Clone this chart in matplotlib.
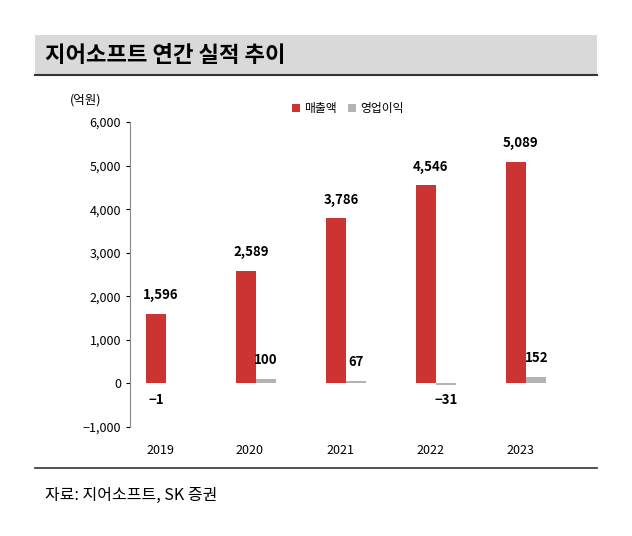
import matplotlib
matplotlib.use("Agg")
import matplotlib.pyplot as plt
from matplotlib.patches import Rectangle

plt.rcParams['font.family'] = ['Noto Sans CJK KR', 'DejaVu Sans']

years = ['2019', '2020', '2021', '2022', '2023']
sales = [1596, 2589, 3786, 4546, 5089]
profit = [-1, 100, 67, -31, 152]

W, H = 632, 536
fig = plt.figure(figsize=(W / 100, H / 100), dpi=100)

# title bar
fig.patches.append(Rectangle((35 / W, 1 - 75 / H), 562 / W, 40 / H, transform=fig.transFigure,
                             facecolor='#d9d9d9', edgecolor='none'))
fig.add_artist(plt.Line2D([35 / W, 597 / W], [1 - 75 / H] * 2, color='#333333', lw=1.5))
fig.text(45 / W, 1 - 55 / H, '지어소프트 연간 실적 추이', fontsize=16, fontweight='bold', va='center')
fig.add_artist(plt.Line2D([35 / W, 597 / W], [1 - 468 / H] * 2, color='#333333', lw=1.2))
fig.text(45 / W, 1 - 495 / H, '자료: 지어소프트, SK 증권', fontsize=11.5, va='center')

ax = fig.add_axes([130 / W, 1 - 427 / H, 435 / W, 305 / H])
x = list(range(len(years)))
w = 0.22
ro, go = -0.04, 0.18
ax.bar([i + ro for i in x], sales, w, color='#cc3333', label='매출액')
ax.bar([i + go for i in x], profit, w, color='#b3b3b3', label='영업이익')
for i in x:
    ax.text(i + ro + 0.05, sales[i] + 270, f'{sales[i]:,}', ha='center', va='bottom',
            fontsize=9.5, fontweight='semibold')
    if profit[i] > 0:
        ax.text(i + go, profit[i] + 270, f'{profit[i]:,}', ha='center', va='bottom',
                fontsize=9.5, fontweight='semibold')
    else:
        xx = i + ro if profit[i] > -10 else i + go
        ax.text(xx, -230, f'\u2212{abs(profit[i])}', ha='center', va='top',
                fontsize=9.5, fontweight='semibold')

ax.set_xlim(-0.333, 4.5)
ax.set_ylim(-1000, 6000)
ax.set_yticks(range(-1000, 6001, 1000))
ax.set_yticklabels([f'{v:,}'.replace('-', '\u2212') for v in range(-1000, 6001, 1000)])
ax.set_xticks(x)
ax.set_xticklabels(years)
ax.tick_params(axis='x', length=0, pad=12, labelsize=9)
ax.tick_params(axis='y', labelsize=9, length=3)
for s in ['top', 'right', 'bottom']:
    ax.spines[s].set_visible(False)
ax.spines['left'].set_color('#888888')
fig.text(70 / W, 1 - 100 / H, '(억원)', fontsize=9, va='center')
ax.legend(loc='upper center', bbox_to_anchor=(0.5, 1.1), ncol=2, frameon=False, fontsize=8.5,
          handlelength=0.7, handleheight=0.7, columnspacing=1.0, handletextpad=0.3)

fig.savefig('out.png', dpi=100)
